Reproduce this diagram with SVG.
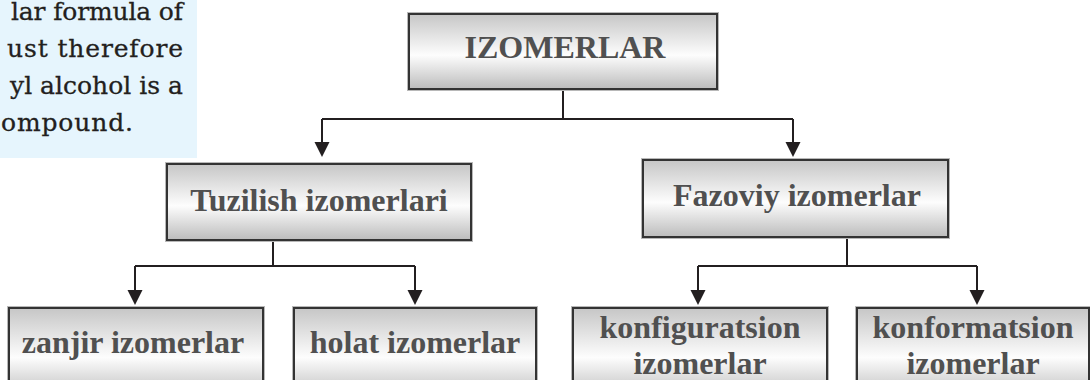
<svg xmlns="http://www.w3.org/2000/svg" width="1090" height="380" viewBox="0 0 1090 380">
<defs>
<linearGradient id="boxg" x1="0" y1="0" x2="0" y2="1">
<stop offset="0" stop-color="#c6c6c6"/>
<stop offset="0.55" stop-color="#fdfdfd"/>
<stop offset="1" stop-color="#bcbcbc"/>
</linearGradient>
<marker id="arr" markerUnits="userSpaceOnUse" markerWidth="16" markerHeight="16" refX="0" refY="7.5" orient="auto" viewBox="0 0 16 16">
<path d="M0,0 L15,7.5 L0,15 z" fill="#231f20"/>
</marker>
</defs>
<style>
.halo{fill:none;stroke:#b8b8b8;stroke-width:4}
.box{fill:url(#boxg);stroke:#333333;stroke-width:2}
.lbl{font-family:"Liberation Serif","Times New Roman",serif;font-weight:bold;font-size:32px;fill:#505050;text-anchor:middle}
.con{fill:none;stroke:#231f20;stroke-width:2}
.para{font-family:"DejaVu Serif",serif;font-size:25px;fill:#231f20;stroke:#231f20;stroke-width:0.3}
</style>
<rect x="0" y="0" width="197" height="158" fill="#e6f5fd"/>
<g class="para">
<text x="183" y="20" text-anchor="end" textLength="172" lengthAdjust="spacing">lar formula of</text>
<text x="183" y="57" text-anchor="end" textLength="176" lengthAdjust="spacing">ust therefore</text>
<text x="183" y="94" text-anchor="end" textLength="173" lengthAdjust="spacing">yl alcohol is a</text>
<text x="1" y="131" textLength="132" lengthAdjust="spacing">ompound.</text>
</g>
<g id="connectors">
<path class="con" d="M563,89 V119 M322,119 H793 M273,240 V266 M135,266 H415 M847,237 V266 M698,266 H977"/>
<path class="con" marker-end="url(#arr)" d="M322,119 V142"/>
<path class="con" marker-end="url(#arr)" d="M793,119 V142"/>
<path class="con" marker-end="url(#arr)" d="M135,266 V290"/>
<path class="con" marker-end="url(#arr)" d="M415,266 V290"/>
<path class="con" marker-end="url(#arr)" d="M698,266 V290"/>
<path class="con" marker-end="url(#arr)" d="M977,266 V290"/>
</g>
<g id="izomerlar">
<rect class="halo" x="409" y="14" width="308" height="75"/>
<rect class="box" x="409" y="14" width="308" height="75"/>
<text class="lbl" x="565" y="58">IZOMERLAR</text>
</g>
<g id="tuzilish">
<rect class="halo" x="167" y="164" width="304" height="76"/>
<rect class="box" x="167" y="164" width="304" height="76"/>
<text class="lbl" x="319" y="211">Tuzilish izomerlari</text>
</g>
<g id="fazoviy">
<rect class="halo" x="643" y="160" width="305" height="77"/>
<rect class="box" x="643" y="160" width="305" height="77"/>
<text class="lbl" x="797" y="206">Fazoviy izomerlar</text>
</g>
<g id="zanjir">
<rect class="halo" x="9" y="308" width="254" height="90"/>
<rect class="box" x="9" y="308" width="254" height="90"/>
<text class="lbl" x="133" y="353">zanjir izomerlar</text>
</g>
<g id="holat">
<rect class="halo" x="294" y="308" width="242" height="90"/>
<rect class="box" x="294" y="308" width="242" height="90"/>
<text class="lbl" x="415" y="353">holat izomerlar</text>
</g>
<g id="konfiguratsion">
<rect class="halo" x="573" y="308" width="254" height="90"/>
<rect class="box" x="573" y="308" width="254" height="90"/>
<text class="lbl" x="700" y="338">konfiguratsion</text>
<text class="lbl" x="700" y="374">izomerlar</text>
</g>
<g id="konformatsion">
<rect class="halo" x="857" y="308" width="232" height="90"/>
<rect class="box" x="857" y="308" width="232" height="90"/>
<text class="lbl" x="973" y="338">konformatsion</text>
<text class="lbl" x="973" y="374">izomerlar</text>
</g>
</svg>
